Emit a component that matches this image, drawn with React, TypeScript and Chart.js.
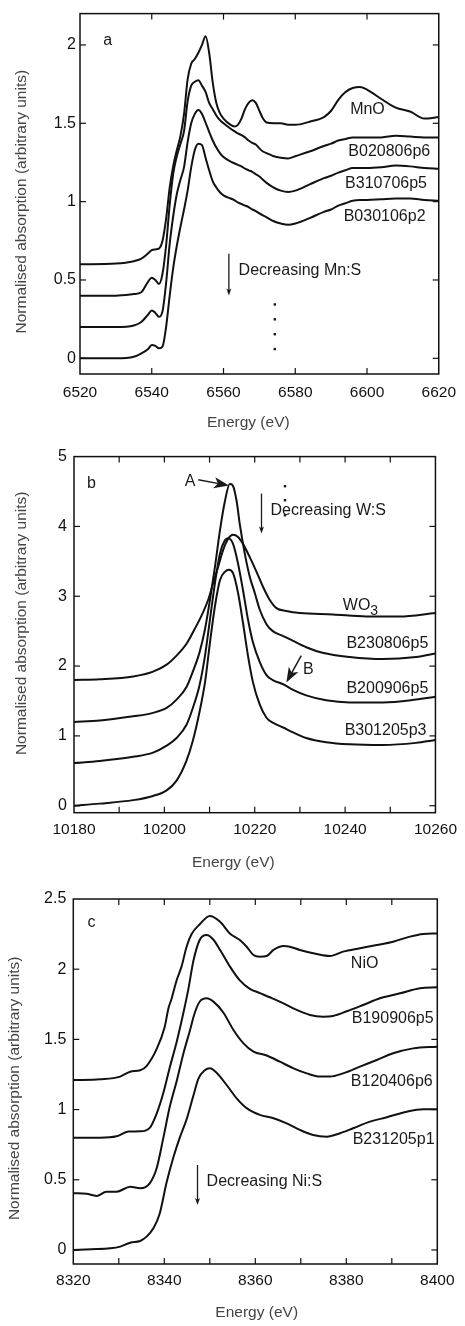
import React, { useEffect, useRef } from "react";
import { Chart, registerables } from "chart.js";

Chart.register(...registerables);

const FONT = '"Liberation Sans", Arial, Helvetica, sans-serif';

// ---------------- Panel a: Mn K-edge ----------------
const aEnergy = [6520, 6530, 6535, 6537, 6539, 6540, 6541, 6542, 6543, 6544, 6545, 6546, 6547, 6548, 6549, 6550, 6551, 6552, 6553, 6554, 6555, 6556, 6557, 6558, 6559, 6560, 6562, 6563, 6564, 6565, 6566, 6567, 6568, 6569, 6570, 6571, 6572, 6574, 6576, 6578, 6580, 6584, 6588, 6590, 6592, 6594, 6596, 6598, 6600, 6604, 6608, 6612, 6616, 6620];
const aMnO = [0.60, 0.605, 0.62, 0.635, 0.67, 0.69, 0.695, 0.70, 0.75, 0.89, 1.09, 1.23, 1.33, 1.42, 1.56, 1.78, 1.88, 1.91, 1.95, 2.00, 2.055, 1.95, 1.76, 1.63, 1.565, 1.53, 1.49, 1.48, 1.49, 1.53, 1.59, 1.63, 1.647, 1.63, 1.58, 1.53, 1.505, 1.50, 1.50, 1.49, 1.49, 1.51, 1.54, 1.58, 1.65, 1.70, 1.725, 1.732, 1.715, 1.655, 1.60, 1.575, 1.53, 1.54];
const aB020806p6 = [0.40, 0.40, 0.41, 0.42, 0.49, 0.515, 0.50, 0.475, 0.54, 0.72, 0.98, 1.18, 1.29, 1.37, 1.45, 1.64, 1.74, 1.765, 1.775, 1.74, 1.70, 1.63, 1.59, 1.55, 1.52, 1.50, 1.465, 1.45, 1.435, 1.425, 1.41, 1.39, 1.375, 1.365, 1.34, 1.32, 1.31, 1.29, 1.28, 1.275, 1.29, 1.32, 1.355, 1.37, 1.39, 1.40, 1.41, 1.41, 1.41, 1.41, 1.42, 1.415, 1.41, 1.41];
const aB310706p5 = [0.20, 0.20, 0.21, 0.23, 0.28, 0.305, 0.29, 0.265, 0.30, 0.48, 0.73, 0.91, 1.05, 1.14, 1.22, 1.38, 1.50, 1.56, 1.585, 1.56, 1.505, 1.445, 1.39, 1.345, 1.31, 1.285, 1.255, 1.245, 1.235, 1.225, 1.21, 1.20, 1.19, 1.175, 1.16, 1.14, 1.12, 1.09, 1.07, 1.062, 1.07, 1.11, 1.15, 1.165, 1.185, 1.20, 1.215, 1.215, 1.215, 1.22, 1.23, 1.225, 1.215, 1.21];
const aB030106p2 = [0.00, 0.00, 0.01, 0.03, 0.06, 0.085, 0.08, 0.065, 0.075, 0.20, 0.40, 0.58, 0.72, 0.84, 0.95, 1.07, 1.22, 1.33, 1.37, 1.36, 1.28, 1.20, 1.13, 1.09, 1.06, 1.04, 1.02, 1.01, 0.995, 0.985, 0.975, 0.965, 0.95, 0.94, 0.925, 0.912, 0.90, 0.875, 0.86, 0.852, 0.86, 0.895, 0.935, 0.95, 0.975, 0.99, 1.005, 1.01, 1.01, 1.015, 1.02, 1.02, 1.01, 1.005];
const aXTicks = [6520, 6540, 6560, 6580, 6600, 6620];
const aXLabels = [6520, 6540, 6560, 6580, 6600, 6620];
const aYTicks = [0, 0.5, 1, 1.5, 2];

// ---------------- Panel b: W L3-edge ----------------
const bWO3E = [10180, 10185.7, 10193.1, 10197.5, 10200.5, 10202.7, 10204.9, 10206.7, 10208.2, 10209.7, 10210.8, 10211.9, 10213, 10214.1, 10215.2, 10216.3, 10217.4, 10218.9, 10220.4, 10221.8, 10223.3, 10224.8, 10227, 10230, 10237.3, 10244.7, 10252, 10260];
const bWO3 = [1.80, 1.81, 1.85, 1.92, 2.02, 2.15, 2.32, 2.53, 2.72, 2.95, 3.19, 3.42, 3.66, 3.82, 3.88, 3.85, 3.75, 3.56, 3.35, 3.14, 2.95, 2.83, 2.79, 2.76, 2.74, 2.71, 2.71, 2.76];
const bB230806p5E = [10180, 10185.7, 10193.1, 10197.5, 10200.5, 10202.7, 10204.9, 10206.3, 10207.8, 10209, 10210.1, 10211.2, 10212.3, 10213.4, 10214.5, 10215.2, 10216, 10216.7, 10217.8, 10218.9, 10220, 10221.1, 10222.6, 10224, 10226.3, 10228.5, 10231.4, 10235, 10241, 10248.4, 10255.7, 10260];
const bB230806p5 = [1.20, 1.22, 1.28, 1.33, 1.40, 1.52, 1.70, 1.92, 2.20, 2.53, 2.95, 3.42, 3.94, 4.36, 4.61, 4.58, 4.36, 4.03, 3.61, 3.28, 3.05, 2.81, 2.60, 2.50, 2.43, 2.36, 2.27, 2.19, 2.13, 2.10, 2.13, 2.18];
const bB200906p5E = [10180, 10185.7, 10193.1, 10197.5, 10200.5, 10202.7, 10204.9, 10206.3, 10207.8, 10209, 10210.1, 10211.2, 10212.3, 10213.4, 10214.1, 10215.2, 10216.3, 10217.4, 10218.5, 10219.6, 10221.1, 10222.6, 10224, 10226.3, 10228.5, 10231.4, 10235.8, 10241, 10248.4, 10255.7, 10260];
const bB200906p5 = [0.61, 0.64, 0.70, 0.76, 0.86, 0.97, 1.16, 1.40, 1.73, 2.15, 2.67, 3.19, 3.61, 3.80, 3.83, 3.75, 3.47, 3.09, 2.67, 2.34, 2.06, 1.87, 1.80, 1.74, 1.66, 1.58, 1.51, 1.48, 1.48, 1.52, 1.56];
const bB301205p3E = [10180, 10185.7, 10193.1, 10197.5, 10200.5, 10202.7, 10204.9, 10206.3, 10207.8, 10209, 10210.1, 10211.2, 10212.3, 10213.4, 10214.3, 10215.2, 10216.3, 10217.4, 10218.5, 10219.6, 10221.1, 10222.6, 10224, 10226.3, 10228.5, 10231.4, 10235.8, 10241, 10248.4, 10255.7, 10260];
const bB301205p3 = [0.00, 0.03, 0.08, 0.14, 0.22, 0.36, 0.645, 0.93, 1.35, 1.77, 2.34, 2.86, 3.23, 3.35, 3.38, 3.33, 3.05, 2.62, 2.15, 1.77, 1.45, 1.26, 1.19, 1.12, 1.05, 0.97, 0.91, 0.88, 0.87, 0.90, 0.94];
const bXTicks = [10180, 10190, 10200, 10210, 10220, 10230, 10240, 10250, 10260];
const bXLabels = [10180, 10200, 10220, 10240, 10260];
const bYTicks = [0, 1, 2, 3, 4, 5];

// ---------------- Panel c: Ni K-edge ----------------
const cNiOE = [8320, 8325.9, 8330.3, 8332.5, 8334.7, 8336.1, 8338.3, 8340.1, 8340.9, 8341.6, 8342.7, 8343.8, 8344.9, 8346, 8347.8, 8350, 8352.2, 8354.4, 8356.6, 8358.1, 8359.6, 8361, 8362.5, 8364, 8366.2, 8367.6, 8369.8, 8373.5, 8376.4, 8379.3, 8383, 8386.7, 8390.3, 8394, 8396.9, 8400];
const cNiO = [1.21, 1.216, 1.235, 1.27, 1.28, 1.31, 1.43, 1.59, 1.72, 1.79, 1.92, 2.02, 2.16, 2.25, 2.32, 2.379, 2.339, 2.255, 2.208, 2.16, 2.101, 2.089, 2.094, 2.137, 2.165, 2.16, 2.137, 2.108, 2.094, 2.125, 2.149, 2.172, 2.196, 2.232, 2.251, 2.255];
const cB190906p5E = [8320, 8325.9, 8329.5, 8332.1, 8334.7, 8336.8, 8338.3, 8339.8, 8341.2, 8342.7, 8344.2, 8345.3, 8346.4, 8347.8, 8349.3, 8350.8, 8352.2, 8354.4, 8356.6, 8358.8, 8361, 8363.2, 8366.2, 8369.1, 8372, 8374.9, 8377.1, 8380.1, 8383.7, 8387.4, 8391.8, 8396.2, 8400];
const cB190906p5 = [0.80, 0.80, 0.81, 0.843, 0.845, 0.87, 0.97, 1.12, 1.30, 1.48, 1.69, 1.86, 2.06, 2.21, 2.244, 2.21, 2.14, 2.02, 1.92, 1.86, 1.83, 1.80, 1.757, 1.71, 1.674, 1.662, 1.667, 1.70, 1.745, 1.793, 1.828, 1.864, 1.871];
const cB120406p6E = [8320, 8322.9, 8325.1, 8327.3, 8329.5, 8332.5, 8334.7, 8336.8, 8338.3, 8339.8, 8341.2, 8342.7, 8344.2, 8345.6, 8346.7, 8347.8, 8349.3, 8350.8, 8353, 8355.2, 8357.4, 8359.6, 8362.5, 8365.4, 8368.4, 8371.3, 8374.2, 8376.4, 8379.3, 8383, 8386.7, 8390.3, 8394.7, 8400];
const cB120406p6 = [0.404, 0.40, 0.385, 0.415, 0.415, 0.45, 0.44, 0.475, 0.58, 0.80, 1.02, 1.20, 1.40, 1.56, 1.69, 1.77, 1.793, 1.769, 1.69, 1.567, 1.472, 1.413, 1.385, 1.341, 1.294, 1.258, 1.235, 1.235, 1.258, 1.306, 1.353, 1.401, 1.436, 1.448];
const cB231205p1E = [8320, 8324, 8328.1, 8330.3, 8332.5, 8334.7, 8336.1, 8337.6, 8339, 8340.5, 8342, 8343.4, 8344.9, 8346.4, 8347.5, 8348.9, 8350, 8351.5, 8353.7, 8355.9, 8358.1, 8361, 8364, 8366.9, 8369.8, 8372.7, 8375.7, 8378.6, 8381.5, 8385.2, 8388.9, 8393.3, 8396.9, 8400];
const cB231205p1 = [0.0, 0.005, 0.012, 0.024, 0.052, 0.064, 0.095, 0.154, 0.26, 0.48, 0.66, 0.80, 0.93, 1.10, 1.22, 1.28, 1.294, 1.263, 1.175, 1.08, 1.01, 0.962, 0.938, 0.902, 0.855, 0.819, 0.807, 0.831, 0.867, 0.914, 0.945, 0.985, 1.002, 1.002];
const cXTicks = [8320, 8330, 8340, 8350, 8360, 8370, 8380, 8390, 8400];
const cXLabels = [8320, 8340, 8360, 8380, 8400];
const cYTicks = [0, 0.5, 1, 1.5, 2, 2.5];

const Y_TITLE = "Normalised absorption (arbitrary units)";
const X_TITLE = "Energy (eV)";

type Txt = { t: string; e: number; v: number; sub?: string };
type Arw = { e1: number; v1: number; e2: number; v2: number; bold?: boolean };
type Deco = {
  titles: { yx: number; yy: number; xx: number; xy: number };
  texts: Txt[];
  arrows: Arw[];
  dots: { e: number; v: number }[];
};

const decoPlugin = {
  id: "deco",
  afterDraw(chart: any, _args: any, opts: Deco) {
    const { ctx, chartArea: ca } = chart;
    const xs = chart.scales.x;
    const ys = chart.scales.y;
    ctx.save();
    const line = (x1: number, y1: number, x2: number, y2: number) => {
      ctx.beginPath();
      ctx.moveTo(x1, y1);
      ctx.lineTo(x2, y2);
      ctx.stroke();
    };
    // frame
    ctx.strokeStyle = "#111";
    ctx.lineWidth = 1.5;
    ctx.strokeRect(ca.left, ca.top, ca.right - ca.left, ca.bottom - ca.top);
    // inward ticks on all four sides
    ctx.lineWidth = 1.2;
    const L = 6;
    xs.ticks.forEach((t: any) => {
      const px = xs.getPixelForValue(t.value);
      if (px <= ca.left + 1 || px >= ca.right - 1) return;
      line(px, ca.bottom, px, ca.bottom - L);
      line(px, ca.top, px, ca.top + L);
    });
    ys.ticks.forEach((t: any) => {
      const py = ys.getPixelForValue(t.value);
      if (py <= ca.top + 1 || py >= ca.bottom - 1) return;
      line(ca.left, py, ca.left + L, py);
      line(ca.right, py, ca.right - L, py);
    });
    // texts
    ctx.fillStyle = "#1a1a1a";
    ctx.textBaseline = "middle";
    ctx.textAlign = "left";
    opts.texts.forEach((t) => {
      const px = xs.getPixelForValue(t.e);
      const py = ys.getPixelForValue(t.v);
      ctx.font = `16px ${FONT}`;
      ctx.fillText(t.t, px, py);
      if (t.sub) {
        const w = ctx.measureText(t.t).width;
        ctx.font = `14px ${FONT}`;
        ctx.fillText(t.sub, px + w, py + 5);
      }
    });
    // arrows
    opts.arrows.forEach((a) => {
      const x1 = xs.getPixelForValue(a.e1);
      const y1 = ys.getPixelForValue(a.v1);
      const x2 = xs.getPixelForValue(a.e2);
      const y2 = ys.getPixelForValue(a.v2);
      const ang = Math.atan2(y2 - y1, x2 - x1);
      const hl = a.bold ? 15 : 7;
      const hw = a.bold ? 5.5 : 2.5;
      ctx.strokeStyle = "#1a1a1a";
      ctx.lineWidth = a.bold ? 1.5 : 1.3;
      line(x1, y1, x2 - Math.cos(ang) * hl * 0.6, y2 - Math.sin(ang) * hl * 0.6);
      ctx.beginPath();
      ctx.moveTo(x2, y2);
      ctx.lineTo(x2 - Math.cos(ang) * hl - Math.sin(ang) * hw, y2 - Math.sin(ang) * hl + Math.cos(ang) * hw);
      ctx.lineTo(x2 - Math.cos(ang) * hl * 0.75, y2 - Math.sin(ang) * hl * 0.75);
      ctx.lineTo(x2 - Math.cos(ang) * hl + Math.sin(ang) * hw, y2 - Math.sin(ang) * hl - Math.cos(ang) * hw);
      ctx.closePath();
      ctx.fill();
    });
    // dots
    opts.dots.forEach((d) => {
      const px = xs.getPixelForValue(d.e);
      const py = ys.getPixelForValue(d.v);
      ctx.fillRect(px - 1.2, py - 1.2, 2.4, 2.4);
    });
    // axis titles
    ctx.fillStyle = "#444";
    ctx.font = `15.5px ${FONT}`;
    ctx.textAlign = "center";
    ctx.fillText(X_TITLE, opts.titles.xx, opts.titles.xy);
    ctx.translate(opts.titles.yx, opts.titles.yy);
    ctx.rotate(-Math.PI / 2);
    ctx.fillText(Y_TITLE, 0, 0);
    ctx.restore();
  },
};

type Series = { x: number[]; y: number[] };
type PanelSpec = {
  height: number;
  series: Series[];
  xMin: number;
  xMax: number;
  yMin: number;
  yMax: number;
  xTicks: number[];
  xLabels: number[];
  yTicks: number[];
  pad: { top: number; right: number; bottom: number };
  yW: number;
  xH: number;
  xPad: number;
  yPad: number;
  deco: Deco;
};

function buildConfig(p: PanelSpec): any {
  return {
    type: "line",
    data: {
      datasets: p.series.map((s) => ({
        data: s.x.map((x, i) => ({ x, y: s.y[i] })),
        borderColor: "#111",
        borderWidth: 2,
        pointRadius: 0,
        fill: false,
        cubicInterpolationMode: "monotone",
      })),
    },
    options: {
      responsive: false,
      animation: false,
      devicePixelRatio: 1,
      layout: { padding: { left: 0, right: p.pad.right, top: p.pad.top, bottom: p.pad.bottom } },
      plugins: { legend: { display: false }, tooltip: { enabled: false }, deco: p.deco },
      scales: {
        x: {
          type: "linear",
          min: p.xMin,
          max: p.xMax,
          afterFit: (s: any) => {
            s.height = p.xH;
          },
          afterBuildTicks: (s: any) => {
            s.ticks = p.xTicks.map((v) => ({ value: v }));
          },
          grid: { display: false, drawTicks: false },
          border: { display: false },
          ticks: {
            autoSkip: false,
            maxRotation: 0,
            padding: p.xPad,
            color: "#111",
            font: { family: FONT, size: 15.5 },
            callback: (v: number) => (p.xLabels.includes(v) ? String(v) : ""),
          },
        },
        y: {
          type: "linear",
          min: p.yMin,
          max: p.yMax,
          afterFit: (s: any) => {
            s.width = p.yW;
          },
          afterBuildTicks: (s: any) => {
            s.ticks = p.yTicks.map((v) => ({ value: v }));
          },
          grid: { display: false, drawTicks: false },
          border: { display: false },
          ticks: {
            padding: p.yPad,
            color: "#111",
            font: { family: FONT, size: 16 },
            callback: (v: number) => String(v),
          },
        },
      },
    },
    plugins: [decoPlugin],
  };
}

const panelA: PanelSpec = {
  height: 440,
  series: [
    { x: aEnergy, y: aMnO },
    { x: aEnergy, y: aB020806p6 },
    { x: aEnergy, y: aB310706p5 },
    { x: aEnergy, y: aB030106p2 },
  ],
  xMin: 6520, xMax: 6620, yMin: -0.1, yMax: 2.2,
  xTicks: aXTicks, xLabels: aXLabels, yTicks: aYTicks,
  pad: { top: 11, right: 22, bottom: 26 },
  yW: 80, xH: 40, xPad: 9, yPad: 4,
  deco: {
    titles: { yx: 21.7, yy: 201.7, xx: 248.3, xy: 423 },
    texts: [
      { t: "a", e: 6526.5, v: 2.03 },
      { t: "MnO", e: 6595.3, v: 1.585 },
      { t: "B020806p6", e: 6594.8, v: 1.32 },
      { t: "B310706p5", e: 6593.9, v: 1.113 },
      { t: "B030106p2", e: 6593.5, v: 0.902 },
      { t: "Decreasing Mn:S", e: 6564.2, v: 0.56 },
    ],
    arrows: [{ e1: 6561.5, v1: 0.667, e2: 6561.5, v2: 0.401 }],
    dots: [
      { e: 6574.3, v: 0.344 },
      { e: 6574.3, v: 0.249 },
      { e: 6574.3, v: 0.154 },
      { e: 6574.3, v: 0.059 },
    ],
  },
};

const panelB: PanelSpec = {
  height: 440,
  series: [
    { x: bWO3E, y: bWO3 },
    { x: bB230806p5E, y: bB230806p5 },
    { x: bB200906p5E, y: bB200906p5 },
    { x: bB301205p3E, y: bB301205p3 },
  ],
  xMin: 10180, xMax: 10260, yMin: -0.1, yMax: 5,
  xTicks: bXTicks, xLabels: bXLabels, yTicks: bYTicks,
  pad: { top: 11.7, right: 29, bottom: 27.3 },
  yW: 74, xH: 40, xPad: 8, yPad: 7,
  deco: {
    titles: { yx: 21.7, yy: 183.3, xx: 233.3, xy: 422.7 },
    texts: [
      { t: "b", e: 10182.9, v: 4.62 },
      { t: "A", e: 10204.5, v: 4.64 },
      { t: "Decreasing W:S", e: 10223.5, v: 4.23 },
      { t: "WO", e: 10239.5, v: 2.86, sub: "3" },
      { t: "B230806p5", e: 10240.3, v: 2.32 },
      { t: "B", e: 10230.7, v: 1.955 },
      { t: "B200906p5", e: 10240.3, v: 1.68 },
      { t: "B301205p3", e: 10239.9, v: 1.07 },
    ],
    arrows: [
      { e1: 10207.5, v1: 4.67, e2: 10214.3, v2: 4.585, bold: true },
      { e1: 10221.5, v1: 4.47, e2: 10221.5, v2: 3.9 },
      { e1: 10230.3, v1: 2.15, e2: 10227, v2: 1.765, bold: true },
    ],
    dots: [
      { e: 10226.7, v: 4.576 },
      { e: 10226.7, v: 4.375 },
      { e: 10226.7, v: 4.16 },
    ],
  },
};

const panelC: PanelSpec = {
  height: 446,
  series: [
    { x: cNiOE, y: cNiO },
    { x: cB190906p5E, y: cB190906p5 },
    { x: cB120406p6E, y: cB120406p6 },
    { x: cB231205p1E, y: cB231205p1 },
  ],
  xMin: 8320, xMax: 8400, yMin: -0.1, yMax: 2.5,
  xTicks: cXTicks, xLabels: cXLabels, yTicks: cYTicks,
  pad: { top: 19, right: 27.7, bottom: 22 },
  yW: 73.3, xH: 40, xPad: 7, yPad: 7,
  deco: {
    titles: { yx: 15, yy: 208.3, xx: 256.7, xy: 433 },
    texts: [
      { t: "c", e: 8323.1, v: 2.331 },
      { t: "NiO", e: 8381, v: 2.042 },
      { t: "B190906p5", e: 8381.2, v: 1.65 },
      { t: "B120406p6", e: 8381, v: 1.199 },
      { t: "B231205p1", e: 8381.4, v: 0.783 },
      { t: "Decreasing Ni:S", e: 8349.3, v: 0.486 },
    ],
    arrows: [{ e1: 8347.3, v1: 0.605, e2: 8347.3, v2: 0.32 }],
    dots: [],
  },
};

function Panel({ spec, top }: { spec: PanelSpec; top: number }) {
  const ref = useRef<HTMLCanvasElement>(null);
  useEffect(() => {
    if (!ref.current) return;
    const chart = new Chart(ref.current, buildConfig(spec));
    return () => chart.destroy();
  }, [spec]);
  return (
    <canvas
      ref={ref}
      width={465}
      height={spec.height}
      style={{ position: "absolute", left: 0, top, width: 465, height: spec.height }}
    />
  );
}

export default function App() {
  return (
    <div style={{ position: "absolute", left: 0, top: 0, width: 465, height: 1326, background: "#fff" }}>
      <Panel spec={panelA} top={0} />
      <Panel spec={panelB} top={440} />
      <Panel spec={panelC} top={880} />
    </div>
  );
}
